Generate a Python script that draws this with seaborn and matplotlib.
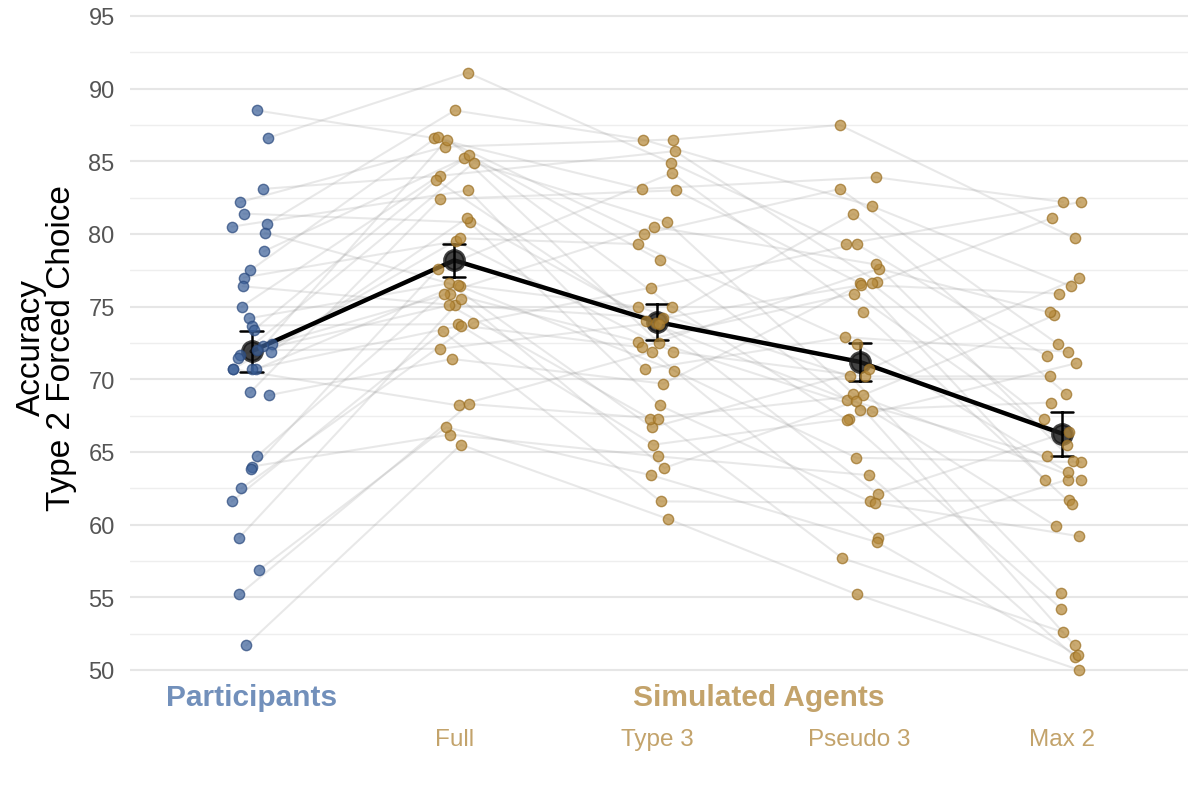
import numpy as np
import pandas as pd
import matplotlib
matplotlib.use("Agg")
import matplotlib.pyplot as plt
import matplotlib.transforms as mtransforms
from matplotlib.ticker import MultipleLocator
import seaborn as sns

# Accuracy (%) per subject, one list per condition, same subject order
conditions = ["Participants", "Full", "Type 3", "Pseudo 3", "Max 2"]
participants = [88.5, 86.6, 83.1, 82.2, 81.4, 80.7, 80.5, 80.1, 78.8, 77.5, 77.0, 76.4,
                75.0, 74.2, 73.7, 73.4, 72.4, 72.3, 72.0, 71.9, 71.7, 71.5, 70.7, 70.7,
                70.7, 70.7, 69.1, 68.9, 64.7, 64.0, 63.8, 62.5, 61.6, 59.1, 56.9, 55.2, 51.7]
full = [86.6, 91.1, 84.0, 86.0, 80.8, 88.5, 83.0, 76.4, 85.2, 86.7, 79.5, 75.1,
        85.4, 76.6, 73.8, 83.7, 75.9, 86.5, 72.1, 81.1, 75.1, 84.9, 76.5, 68.2,
        79.7, 73.7, 82.4, 71.4, 75.9, 66.2, 77.6, 73.9, 73.3, 75.5, 66.7, 68.3, 65.5]
type3 = [83.1, 84.9, 85.7, 86.5, 68.2, 86.5, 70.7, 70.6, 72.5, 80.0, 71.9, 74.2,
         78.2, 66.7, 65.5, 74.0, 72.6, 75.0, 73.9, 73.8, 67.3, 80.8, 75.0, 71.9,
         79.3, 72.2, 83.0, 69.7, 80.5, 64.7, 84.2, 76.3, 61.6, 63.9, 63.4, 67.3, 60.4]
pseudo3 = [83.9, 79.3, 76.7, 87.5, 61.6, 81.9, 72.9, 64.6, 67.8, 83.1, 70.2, 76.6,
           67.9, 70.7, 67.3, 68.6, 75.9, 67.2, 81.4, 62.1, 68.9, 69.0, 70.2, 59.1,
           72.4, 77.6, 76.6, 76.5, 77.9, 63.4, 74.6, 79.3, 61.5, 68.5, 58.8, 57.7, 55.2]
max2 = [82.2, 82.2, 81.1, 79.7, 61.7, 76.4, 71.9, 64.3, 59.9, 72.4, 70.2, 67.3,
        68.4, 77.0, 71.1, 64.7, 65.5, 54.2, 69.0, 66.4, 74.4, 63.1, 55.3, 63.1,
        63.6, 74.6, 63.1, 75.9, 64.4, 50.9, 61.4, 71.6, 59.2, 51.7, 51.0, 52.6, 50.0]
groups = ["Participants", "Simulated Agents", "Simulated Agents", "Simulated Agents", "Simulated Agents"]

series = [participants, full, type3, pseudo3, max2]
n_sub = len(participants)

rows = []
rng = np.random.default_rng(7)
for ci, (cond, vals) in enumerate(zip(conditions, series)):
    jit = rng.uniform(-0.1, 0.1, size=n_sub)
    for si, v in enumerate(vals):
        rows.append({"subject": si, "condition": cond, "pos": ci,
                     "xj": ci + jit[si], "acc": v, "group": groups[ci]})
df = pd.DataFrame(rows)

BLUE = "#3d6199"
BLUE_EDGE = "#2b4a7e"
TAN = "#b68a3b"
TAN_EDGE = "#9c7023"
BLUE_TXT = "#7290bb"
TAN_TXT = "#c3a36b"

sns.set_theme(style="white")
plt.rcParams["font.family"] = ["Liberation Sans", "DejaVu Sans"]

fig = plt.figure(figsize=(11.88, 8.03), dpi=100)
ax = fig.add_axes([130 / 1188, 1 - 685.5 / 803, (1188 - 130) / 1188, (685.5 - 9.7) / 803])

# subject trajectories
sns.lineplot(data=df, x="xj", y="acc", units="subject", estimator=None,
             color="#9a9a9a", alpha=0.22, linewidth=1.5, ax=ax, legend=False, zorder=2)

# individual points
sns.scatterplot(data=df[df.group == "Participants"], x="xj", y="acc", color=BLUE,
                alpha=0.72, s=55, edgecolor=BLUE_EDGE, linewidth=1.0, ax=ax, zorder=3, legend=False)
sns.scatterplot(data=df[df.group == "Simulated Agents"], x="xj", y="acc", color=TAN,
                alpha=0.72, s=55, edgecolor=TAN_EDGE, linewidth=1.0, ax=ax, zorder=3, legend=False)

# condition means with standard error
sns.pointplot(data=df, x="pos", y="acc", native_scale=True, errorbar="se",
              color="black", capsize=0.11, markersize=14, linewidth=3.2,
              err_kws={"linewidth": 1.8}, ax=ax,
              markerfacecolor=(0.1, 0.1, 0.1, 0.82), markeredgecolor=(0.1, 0.1, 0.1, 0.82))

ax.set_xlim(-0.6, 4.62)
ax.set_ylim(49.0, 95.5)
ax.yaxis.set_major_locator(MultipleLocator(5))
ax.yaxis.set_minor_locator(MultipleLocator(2.5))
ax.grid(axis="y", which="major", color="#e6e6e6", linewidth=1.5, zorder=0)
ax.grid(axis="y", which="minor", color="#eeeeee", linewidth=1.0, zorder=0)
ax.grid(axis="x", visible=False)
ax.set_axisbelow(True)
for sp in ax.spines.values():
    sp.set_visible(False)
ax.tick_params(axis="y", which="both", length=0, labelsize=17, labelcolor="#555555", pad=11)
ax.tick_params(axis="x", length=0, labelsize=17.5, labelcolor=TAN_TXT, pad=31)

ax.set_xticks([1, 2, 3, 4])
ax.set_xticklabels(conditions[1:])
ax.set_xlabel("")
ax.set_ylabel("Accuracy\nType 2 Forced Choice", fontsize=24, color="black", labelpad=8,
              linespacing=0.95)

trans = mtransforms.blended_transform_factory(ax.transData, ax.transAxes)
ax.text(0, -0.0185, "Participants", transform=trans, ha="center", va="center",
        fontsize=21.5, fontweight="bold", color=BLUE_TXT)
ax.text(2.5, -0.0185, "Simulated Agents", transform=trans, ha="center", va="center",
        fontsize=21.5, fontweight="bold", color=TAN_TXT)

fig.savefig("out.png", dpi=100)
